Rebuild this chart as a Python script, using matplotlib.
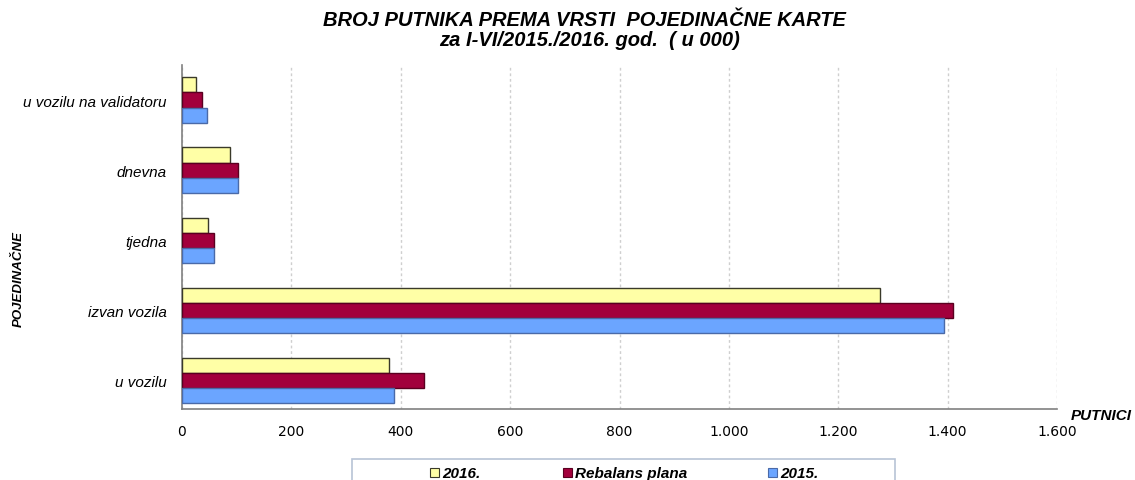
import matplotlib
matplotlib.use("Agg")
import matplotlib.pyplot as plt
import numpy as np
from matplotlib.patches import Rectangle

categories = ["u vozilu", "izvan vozila", "tjedna", "dnevna", "u vozilu na validatoru"]
series_names = ["2016.", "Rebalans plana", "2015."]
vals_2016 = [378, 1277, 47, 87, 25]
vals_rebalans = [442, 1410, 58, 102, 36]
vals_2015 = [387, 1394, 58, 103, 45]
xticks = [0, 200, 400, 600, 800, 1000, 1200, 1400, 1600]
xticklabels = ["0", "200", "400", "600", "800", "1.000", "1.200", "1.400", "1.600"]

colors = ["#FFFFA6", "#A2003C", "#6BA5FF"]
edges = ["#3a3a2a", "#5a0020", "#4a6aa8"]

W, H = 1135, 481
fig = plt.figure(figsize=(W / 100, H / 100), dpi=100)
ax = fig.add_axes([182/W, 1-410/H, (1057-182)/W, (410-66)/H])

y = np.arange(len(categories))
h = 0.215
series = [vals_2016, vals_rebalans, vals_2015]
offsets = [h, 0, -h]
for vals, off, c, ec in zip(series, offsets, colors, edges):
    ax.barh(y + off, vals, height=h, color=c, edgecolor=ec, linewidth=1.0, zorder=3)

ax.set_xlim(0, 1600)
ax.set_ylim(-0.41, 4.5)
ax.set_xticks(xticks)
ax.set_xticklabels(xticklabels, fontsize=10, family="DejaVu Sans")
ax.set_yticks(y)
ax.set_yticklabels(categories, fontsize=11, style="italic", family="Liberation Sans")
ax.tick_params(axis="x", length=0, pad=11)
ax.tick_params(axis="y", length=0, pad=11)
ax.xaxis.grid(True, linestyle=(0, (2, 2)), color="#cfcfcf", linewidth=1, zorder=0)
for s in ["top", "right"]:
    ax.spines[s].set_visible(False)
for s in ["left", "bottom"]:
    ax.spines[s].set_color("#808080")
    ax.spines[s].set_linewidth(1.2)

tfont = dict(ha="center", va="center", fontsize=14.5, weight="bold", style="italic", family="Liberation Sans")
fig.text(584/W, 1 - 20/H, "BROJ PUTNIKA PREMA VRSTI  POJEDINAČNE KARTE", **tfont)
fig.text(590/W, 1 - 40/H, "za I-VI/2015./2016. god.  ( u 000)", **tfont)

fig.text(1132/W, 1 - 416/H, "PUTNICI", ha="right", va="center", fontsize=11,
         weight="bold", style="italic", family="Liberation Sans")
fig.text(19/W, 1 - 279/H, "POJEDINAČNE", ha="center", va="center", rotation=90,
         fontsize=9.5, weight="bold", style="italic", family="Liberation Sans")

# legend box (extends below the image edge as in the reference)
fig.patches.append(Rectangle((352/W, 1 - 492/H), (895-352)/W, 32/H, transform=fig.transFigure,
                             facecolor="white", edgecolor="#b8c4d6", linewidth=1.2))
leg_x = [430, 563, 768]
ty = 1 - 474/H
for x0, name, c, ec in zip(leg_x, series_names, colors, edges):
    fig.patches.append(Rectangle((x0/W, 1 - 478/H), 9/W, 9/H, transform=fig.transFigure,
                                 facecolor=c, edgecolor=ec, linewidth=0.8))
    fig.text((x0 + 12)/W, ty, name, ha="left", va="center", fontsize=11,
             weight="bold", style="italic", family="Liberation Sans")

fig.savefig("out.png", dpi=100)
